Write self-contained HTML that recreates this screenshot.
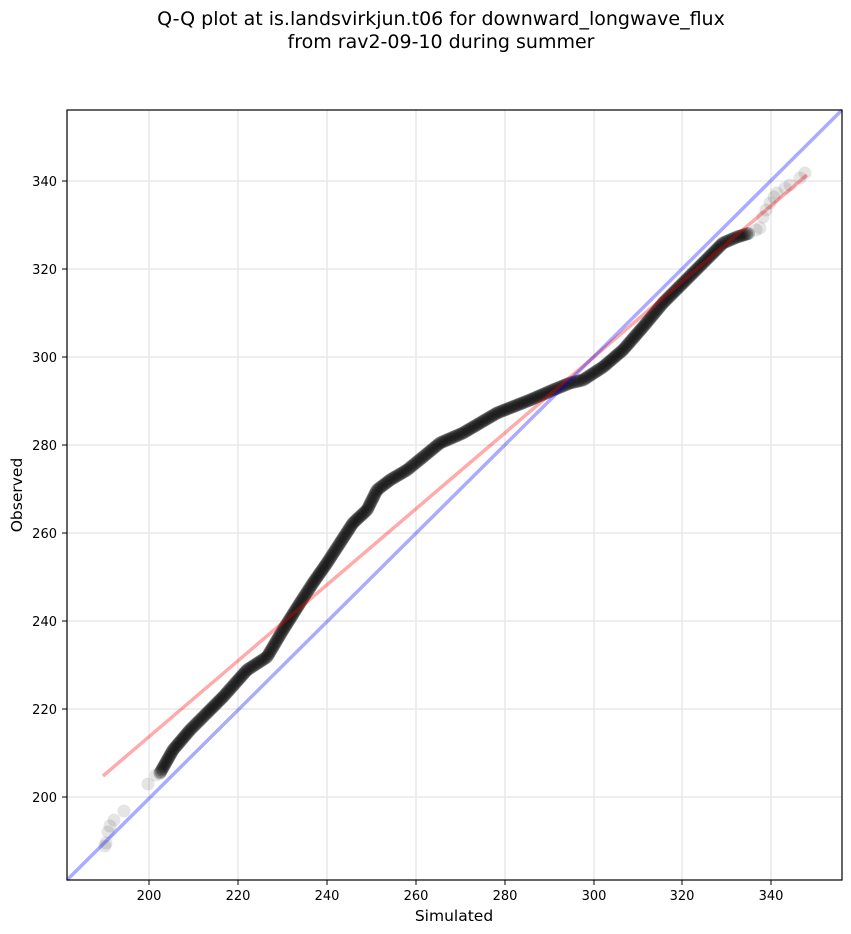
<!DOCTYPE html>
<html><head><meta charset="utf-8"><style>
body{margin:0;background:#fff;}
svg{display:block;font-family:"DejaVu Sans","Liberation Sans",sans-serif;}
</style></head><body>
<svg id="s" width="851" height="934" viewBox="0 0 851 934">
<rect width="851" height="934" fill="#fff"/>
<text x="441" y="25" font-size="19" text-anchor="middle">Q-Q plot at is.landsvirkjun.t06 for downward_longwave_flux</text>
<text x="441" y="48" font-size="19" text-anchor="middle">from rav2-09-10 during summer</text>
<g stroke="#e8e8e8" stroke-width="1.5">
<line x1="149" y1="110" x2="149" y2="880"/><line x1="238" y1="110" x2="238" y2="880"/><line x1="327" y1="110" x2="327" y2="880"/><line x1="416" y1="110" x2="416" y2="880"/><line x1="505" y1="110" x2="505" y2="880"/><line x1="594" y1="110" x2="594" y2="880"/><line x1="682" y1="110" x2="682" y2="880"/><line x1="771" y1="110" x2="771" y2="880"/>
<line x1="67" y1="181" x2="842" y2="181"/><line x1="67" y1="269" x2="842" y2="269"/><line x1="67" y1="357" x2="842" y2="357"/><line x1="67" y1="445" x2="842" y2="445"/><line x1="67" y1="533" x2="842" y2="533"/><line x1="67" y1="621" x2="842" y2="621"/><line x1="67" y1="709" x2="842" y2="709"/><line x1="67" y1="797" x2="842" y2="797"/>
</g>
<g id="pts"></g>
<line x1="103" y1="776" x2="807" y2="175" stroke="#ff0000" stroke-opacity="0.33" stroke-width="3.5"/>
<line x1="67" y1="880" x2="842" y2="110" stroke="#0000ff" stroke-opacity="0.33" stroke-width="3.5"/>
<rect x="67" y="110" width="775" height="770" fill="none" stroke="#000" stroke-width="1.2"/>
<g stroke="#000" stroke-width="1">
<line x1="149" y1="880" x2="149" y2="885"/><line x1="238" y1="880" x2="238" y2="885"/><line x1="327" y1="880" x2="327" y2="885"/><line x1="416" y1="880" x2="416" y2="885"/><line x1="505" y1="880" x2="505" y2="885"/><line x1="594" y1="880" x2="594" y2="885"/><line x1="682" y1="880" x2="682" y2="885"/><line x1="771" y1="880" x2="771" y2="885"/>
<line x1="62" y1="181" x2="67" y2="181"/><line x1="62" y1="269" x2="67" y2="269"/><line x1="62" y1="357" x2="67" y2="357"/><line x1="62" y1="445" x2="67" y2="445"/><line x1="62" y1="533" x2="67" y2="533"/><line x1="62" y1="621" x2="67" y2="621"/><line x1="62" y1="709" x2="67" y2="709"/><line x1="62" y1="797" x2="67" y2="797"/>
</g>
<g font-size="13" text-anchor="middle">
<text x="149" y="900">200</text><text x="238" y="900">220</text><text x="327" y="900">240</text><text x="416" y="900">260</text><text x="505" y="900">280</text><text x="594" y="900">300</text><text x="682" y="900">320</text><text x="771" y="900">340</text>
</g>
<g font-size="13" text-anchor="end">
<text x="57" y="186">340</text><text x="57" y="274">320</text><text x="57" y="362">300</text><text x="57" y="450">280</text><text x="57" y="538">260</text><text x="57" y="626">240</text><text x="57" y="714">220</text><text x="57" y="802">200</text>
</g>
<text x="454" y="921" font-size="15.5" text-anchor="middle">Simulated</text>
<text x="22" y="495" font-size="15.5" text-anchor="middle" transform="rotate(-90 22 495)">Observed</text>
</svg>
<script>
var g=document.getElementById('pts');
function c(x,y,o){var e=document.createElementNS('http://www.w3.org/2000/svg','circle');e.setAttribute('cx',x);e.setAttribute('cy',y);e.setAttribute('r',6.5);e.setAttribute('fill','#000');e.setAttribute('fill-opacity',o);g.appendChild(e);}
[[105,846],[106,843],[108,832],[110,826],[114,820],[124,811],[148,784],[156,775]].forEach(function(p){c(p[0],p[1],0.1);});
var P=[[160,773],[173,750],[190,730],[207,713],[223,697],[247,670],[267,657],[283,630],[300,603],[313,583],[327,563],[340,543],[353,523],[367,510],[377,490],[390,480],[407,470],[423,457],[440,443],[463,433],[497,413],[530,400],[553,390],[570,383],[583,380],[603,367],[623,350],[643,327],[663,303],[683,283],[703,263],[723,243],[737,237],[750,233]];
for(var i=0;i<P.length-1;i++){var a=P[i],b=P[i+1];var d=Math.hypot(b[0]-a[0],b[1]-a[1]);var n=Math.max(1,Math.round(d/1.8));for(var k=0;k<n;k++){var t=k/n;c(a[0]+(b[0]-a[0])*t,a[1]+(b[1]-a[1])*t,0.25);}}
[[756,230],[760,228],[763,217],[766,210],[770,203],[774,197],[777,193],[785,188],[790,185],[800,178],[805,173]].forEach(function(p){c(p[0],p[1],0.1);});
</script>
</body></html>
